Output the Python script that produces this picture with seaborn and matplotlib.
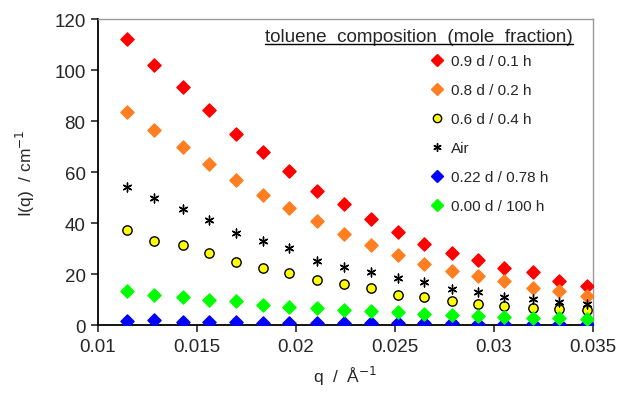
import numpy as np
import pandas as pd
import matplotlib.pyplot as plt
import seaborn as sns
from matplotlib.lines import Line2D

# q values (1/A)
q = [0.01146, 0.01283, 0.01429, 0.01561, 0.01697, 0.01833, 0.01965, 0.02106, 0.02242,
     0.02379, 0.02515, 0.02646, 0.02788, 0.02919, 0.03051, 0.03197, 0.03328, 0.03470]

i_09d = [112.2, 102.0, 93.2, 84.3, 74.9, 67.8, 60.4, 52.7, 47.5,
         41.6, 36.6, 31.8, 28.2, 25.6, 22.4, 20.7, 17.4, 15.4]
i_08d = [83.5, 76.5, 69.8, 63.1, 56.9, 51.0, 45.9, 40.9, 35.5,
         31.4, 27.5, 23.9, 21.3, 19.3, 17.4, 14.4, 13.5, 11.2]
i_06d = [37.3, 33.1, 31.4, 28.1, 24.6, 22.4, 20.4, 17.8, 16.1,
         14.4, 11.8, 10.8, 9.5, 8.2, 7.3, 6.7, 6.3, 5.9]
i_air = [54.0, 49.8, 45.5, 41.2, 36.0, 32.8, 30.2, 25.2, 22.6,
         20.9, 18.3, 16.7, 14.1, 13.1, 11.1, 10.2, 8.9, 8.2]
i_022d = [1.7, 2.0, 1.0, 1.0, 1.0, 0.9, 0.9, 0.8, 0.8,
          0.7, 0.7, 0.6, 0.6, 0.5, 0.5, 0.5, 0.4, 0.4]
i_000d = [13.5, 11.9, 10.8, 9.9, 9.3, 7.8, 6.9, 6.5, 6.0,
          5.6, 5.0, 4.3, 4.0, 3.6, 3.3, 2.7, 2.7, 2.4]

labels = ['0.9 d / 0.1 h', '0.8 d / 0.2 h', '0.6 d / 0.4 h', 'Air',
          '0.22 d / 0.78 h', '0.00 d / 100 h']
series = [i_09d, i_08d, i_06d, i_air, i_022d, i_000d]

styles = {
    '0.9 d / 0.1 h':   dict(marker='D', color='#ff0000', edgecolor='#ff0000', s=45),
    '0.8 d / 0.2 h':   dict(marker='D', color='#ff7f20', edgecolor='#ff7f20', s=45),
    '0.6 d / 0.4 h':   dict(marker='o', color='#ffff00', edgecolor='black', s=45),
    'Air':             dict(marker=(6, 2, 0), color='black', edgecolor='black', s=40),
    '0.22 d / 0.78 h': dict(marker='D', color='#0000ff', edgecolor='#0000ff', s=45),
    '0.00 d / 100 h':  dict(marker='D', color='#00ff00', edgecolor='#00ff00', s=45),
}

df = pd.DataFrame({'q': q * len(labels),
                   'I': np.concatenate(series),
                   'sample': np.repeat(labels, len(q))})

sns.set_style('ticks')
plt.rcParams['font.family'] = ['Liberation Sans', 'DejaVu Sans']

fig = plt.figure(figsize=(6.18, 4.06), dpi=100)
ax = fig.add_axes([0.1586, 0.197, 0.8009, 0.7537])

handles = []
for lab in labels:
    st = styles[lab]
    sub = df[df['sample'] == lab]
    sns.scatterplot(data=sub, x='q', y='I', ax=ax, marker=st['marker'], s=st['s'],
                    color=st['color'], edgecolor=st['edgecolor'], linewidth=1.0,
                    legend=False, zorder=3)
    handles.append(Line2D([], [], linestyle='none', marker=st['marker'], markersize=6,
                          markerfacecolor=st['color'], markeredgecolor=st['edgecolor'],
                          markeredgewidth=1.0, label=lab))

ax.set_xlim(0.01, 0.035)
ax.set_ylim(0, 120)
ax.set_xticks([0.01, 0.015, 0.02, 0.025, 0.03, 0.035])
ax.set_xticklabels(['0.01', '0.015', '0.02', '0.025', '0.03', '0.035'])
ax.set_yticks(range(0, 121, 20))
ax.tick_params(axis='both', labelsize=13.5, length=5, width=1.2, direction='out', pad=4)

for side in ['left', 'bottom']:
    ax.spines[side].set_color('black')
    ax.spines[side].set_linewidth(1.3)
for side in ['top', 'right']:
    ax.spines[side].set_visible(True)
    ax.spines[side].set_color('#9a9a9a')
    ax.spines[side].set_linewidth(1.0)

ax.set_xlabel('q  /  Å$^{-1}$', fontsize=12.5, labelpad=7)
ax.set_ylabel('I(q)  / cm$^{-1}$', fontsize=12.5, labelpad=12)

leg = ax.legend(handles=handles, loc='upper left', bbox_to_anchor=(0.66, 0.905),
                frameon=False, fontsize=11, handlelength=0.8, handletextpad=0.5,
                labelspacing=0.98, borderaxespad=0)

title = ax.text(0.96, 0.97, 'toluene  composition  (mole  fraction)', transform=ax.transAxes,
                ha='right', va='top', fontsize=13.6)
fig.canvas.draw()
bb = title.get_window_extent().transformed(fig.transFigure.inverted())
fig.add_artist(Line2D([bb.x0, bb.x1], [bb.y0 + 0.002, bb.y0 + 0.002],
                      transform=fig.transFigure, color='black', linewidth=1.0))

fig.savefig('out.png', dpi=100)
